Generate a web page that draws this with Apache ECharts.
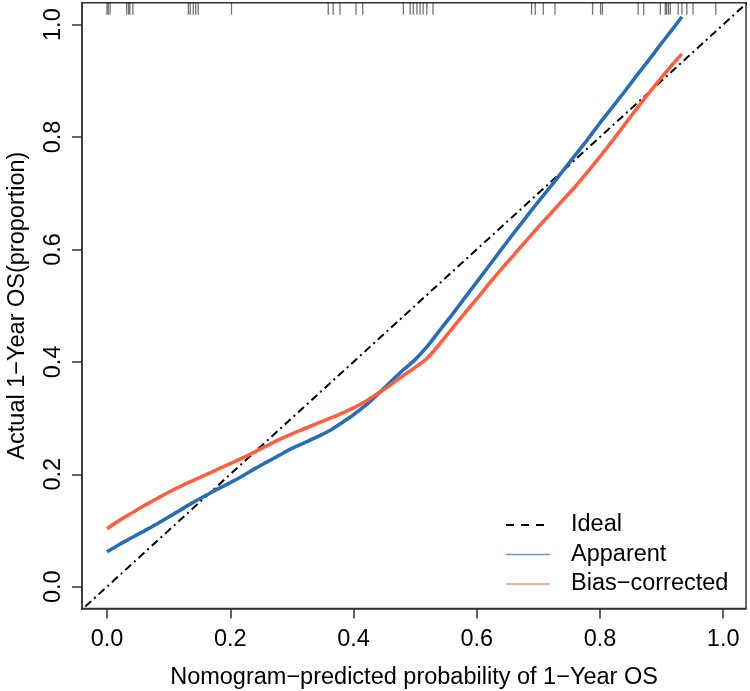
<!DOCTYPE html>
<html>
<head>
<meta charset="utf-8">
<script src="https://cdn.jsdelivr.net/npm/echarts@6/dist/echarts.min.js"></script>
<style>
html,body{margin:0;padding:0;background:#fff;}
#chart{width:750px;height:691px;}
</style>
</head>
<body>
<div id="chart"></div>
<script>
// ---- data ----
const predX = [0.00,0.02,0.04,0.06,0.08,0.10,0.12,0.14,0.16,0.18,0.20,0.22,0.24,0.26,0.28,0.30,0.32,0.34,0.36,0.38,0.40,0.42,0.44,0.46,0.48,0.50,0.52,0.54,0.56,0.58,0.60,0.62,0.64,0.66,0.68,0.70,0.72,0.74,0.76,0.78,0.80,0.82,0.84,0.86,0.88,0.90,0.92,0.933];
const apparent = [0.062,0.075,0.087,0.099,0.111,0.124,0.137,0.150,0.162,0.174,0.185,0.197,0.210,0.222,0.234,0.246,0.256,0.266,0.277,0.291,0.306,0.323,0.343,0.364,0.385,0.404,0.428,0.456,0.484,0.513,0.542,0.571,0.600,0.629,0.657,0.685,0.712,0.740,0.768,0.796,0.825,0.853,0.881,0.910,0.938,0.967,0.995,1.014];
const biasCorrected = [0.103,0.118,0.131,0.144,0.156,0.168,0.179,0.189,0.199,0.209,0.219,0.229,0.240,0.251,0.262,0.272,0.281,0.290,0.299,0.308,0.318,0.330,0.344,0.359,0.375,0.390,0.407,0.432,0.459,0.486,0.512,0.539,0.565,0.590,0.615,0.640,0.664,0.688,0.712,0.738,0.765,0.793,0.822,0.851,0.879,0.906,0.932,0.948];
const idealX = [-0.1, 1.1];
const rugX = [0.000,0.002,0.005,0.032,0.035,0.037,0.042,0.132,0.135,0.140,0.144,0.148,0.202,0.359,0.367,0.378,0.404,0.415,0.481,0.492,0.497,0.503,0.508,0.513,0.519,0.529,0.689,0.695,0.708,0.727,0.788,0.801,0.804,0.862,0.871,0.898,0.906,0.908,0.911,0.914,0.927,0.933,0.941,0.951,0.988];
const tickValues = [0.0,0.2,0.4,0.6,0.8,1.0];
const seriesNames = ['Ideal','Apparent','Bias\u2212corrected'];
const xTitle = 'Nomogram\u2212predicted probability of 1\u2212Year OS';
const yTitle = 'Actual 1\u2212Year OS(proportion)';

const X_MIN = -0.0406, X_MAX = 1.037, Y_MIN = -0.0388, Y_MAX = 1.039;
const FONT = '"Liberation Sans", Arial, Helvetica, sans-serif';
const FS = 23.5;
const BLUE = '#2a6db3';
const RED = '#fb6142';

const chart = echarts.init(document.getElementById('chart'), null, {renderer:'canvas'});
const axisCommon = {
  axisLine:{show:true, onZero:false, lineStyle:{color:'#333', width:1.5}},
  splitLine:{show:false},
  axisTick:{show:true, inside:false, length:10, customValues:tickValues, lineStyle:{color:'#333', width:1.5}},
  axisLabel:{customValues:tickValues, color:'#000', fontFamily:FONT, fontSize:FS, formatter:v=>Number(v).toFixed(1)},
  nameTextStyle:{color:'#000', fontFamily:FONT, fontSize:FS}
};
const hiddenSymbol = {opacity:0, borderWidth:0};
chart.setOption({
  animation:false,
  backgroundColor:'#fff',
  grid:{left:82, right:4, top:2.7, bottom:82.5, show:true, borderColor:'#333', borderWidth:1.5,
        backgroundColor:'transparent', containLabel:false, outerBoundsMode:'none'},
  xAxis:Object.assign({}, axisCommon, {
    type:'value', min:X_MIN, max:X_MAX,
    axisLabel:Object.assign({}, axisCommon.axisLabel, {margin:19.5}),
    name:xTitle, nameLocation:'middle', nameGap:57
  }),
  yAxis:Object.assign({}, axisCommon, {
    type:'value', min:Y_MIN, max:Y_MAX,
    axisLabel:Object.assign({}, axisCommon.axisLabel, {margin:16, rotate:90}),
    name:yTitle, nameLocation:'middle', nameGap:52, nameRotate:90
  }),
  legend:{
    orient:'vertical', left:500, top:508, align:'left',
    itemWidth:44, itemHeight:14, itemGap:5.5,
    textStyle:{color:'#000', fontFamily:FONT, fontSize:FS, lineHeight:24, padding:[0,0,0,16]},
    data:[
      {name:seriesNames[0], itemStyle:hiddenSymbol, lineStyle:{color:'#000', width:2, type:[8,7]}},
      {name:seriesNames[1], itemStyle:hiddenSymbol, lineStyle:{color:'#6b9bd0', width:1.5}},
      {name:seriesNames[2], itemStyle:hiddenSymbol, lineStyle:{color:'#fb8f7a', width:1.5}}
    ]
  },
  series:[
    {
      name:seriesNames[0], type:'line', symbol:'none', clip:true, z:3,
      data:idealX.map(v=>[v,v]),
      lineStyle:{color:'#000', width:2, type:[8,4,2,4]}
    },
    {
      name:seriesNames[1], type:'line', symbol:'none', smooth:0.3, z:4,
      data:predX.map((x,i)=>[x, apparent[i]]),
      lineStyle:{color:BLUE, width:3.6}
    },
    {
      name:seriesNames[2], type:'line', symbol:'none', smooth:0.3, z:5,
      data:predX.map((x,i)=>[x, biasCorrected[i]]),
      lineStyle:{color:RED, width:3.6}
    },
    {
      name:'rug', type:'custom', z:6, silent:true,
      data:rugX.map(v=>[v]),
      encode:{x:0},
      renderItem:function(params, api){
        const p = api.coord([api.value(0), Y_MAX]);
        return {type:'line', shape:{x1:p[0], y1:p[1], x2:p[0], y2:p[1]+12},
          style:{stroke:'rgba(0,0,0,0.55)', lineWidth:1.3}};
      }
    }
  ]
});
</script>
</body>
</html>
